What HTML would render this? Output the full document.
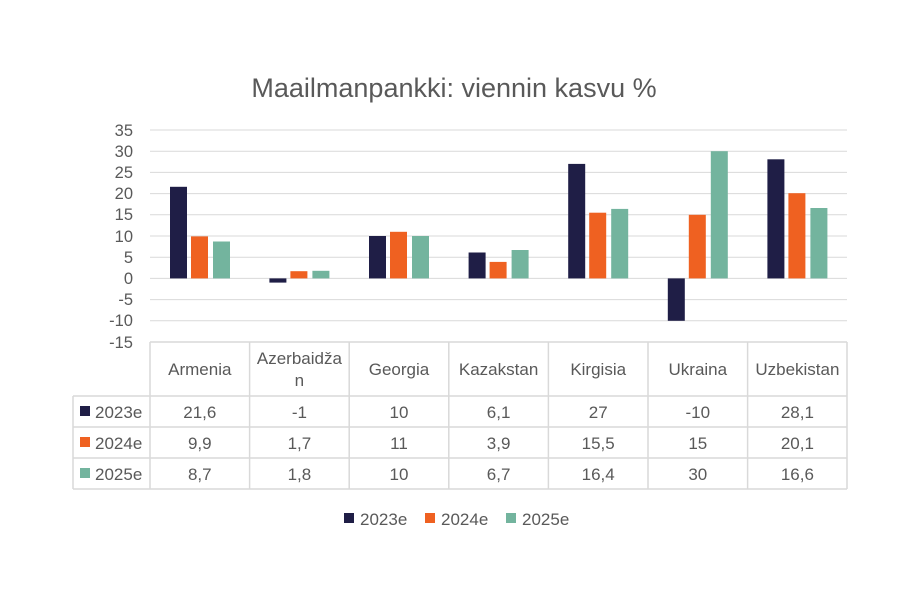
<!DOCTYPE html>
<html><head><meta charset="utf-8"><style>
body{margin:0;background:#fff}
svg{display:block;font-family:"Liberation Sans",sans-serif}
</style></head><body>
<svg width="900" height="600" viewBox="0 0 900 600">
<rect width="900" height="600" fill="#fff"/>
<text x="454" y="97" text-anchor="middle" font-size="27" fill="#595959">Maailmanpankki: viennin kasvu %</text>
<g stroke="#d9d9d9" stroke-width="1">
<line x1="150" x2="847" y1="130" y2="130"/><line x1="150" x2="847" y1="151.2" y2="151.2"/>
<line x1="150" x2="847" y1="172.4" y2="172.4"/><line x1="150" x2="847" y1="193.6" y2="193.6"/>
<line x1="150" x2="847" y1="214.8" y2="214.8"/><line x1="150" x2="847" y1="236" y2="236"/>
<line x1="150" x2="847" y1="257.2" y2="257.2"/><line x1="150" x2="847" y1="278.4" y2="278.4"/>
<line x1="150" x2="847" y1="299.6" y2="299.6"/><line x1="150" x2="847" y1="320.8" y2="320.8"/>
</g>
<g font-size="16.5" fill="#595959" text-anchor="end">
<text x="133" y="136">35</text><text x="133" y="157">30</text><text x="133" y="178">25</text>
<text x="133" y="199">20</text><text x="133" y="220">15</text><text x="133" y="242">10</text>
<text x="133" y="263">5</text><text x="133" y="284">0</text><text x="133" y="305">-5</text>
<text x="133" y="326">-10</text><text x="133" y="348">-15</text>
</g>
<g fill="#1f1e46">
<rect x="170" y="186.8" width="17" height="91.6"/><rect x="269.4" y="278.4" width="17" height="4.2"/>
<rect x="369" y="236" width="17" height="42.4"/><rect x="468.6" y="252.5" width="17" height="25.9"/>
<rect x="568.2" y="163.9" width="17" height="114.5"/><rect x="667.8" y="278.4" width="17" height="42.4"/>
<rect x="767.4" y="159.3" width="17" height="119.1"/>
</g>
<g fill="#ef6121">
<rect x="191" y="236.4" width="17" height="42"/><rect x="290.4" y="271.2" width="17" height="7.2"/>
<rect x="390" y="231.8" width="17" height="46.6"/><rect x="489.6" y="261.9" width="17" height="16.5"/>
<rect x="589.2" y="212.7" width="17" height="65.7"/><rect x="688.8" y="214.8" width="17" height="63.6"/>
<rect x="788.4" y="193.2" width="17" height="85.2"/>
</g>
<g fill="#73b49e">
<rect x="213" y="241.5" width="17" height="36.9"/><rect x="312.4" y="270.8" width="17" height="7.6"/>
<rect x="412" y="236" width="17" height="42.4"/><rect x="511.6" y="250" width="17" height="28.4"/>
<rect x="611.2" y="208.9" width="17" height="69.5"/><rect x="710.8" y="151.2" width="17" height="127.2"/>
<rect x="810.4" y="208" width="17" height="70.4"/>
</g>
<g stroke="#d9d9d9" stroke-width="1.5" fill="none">
<line x1="150" x2="847" y1="342" y2="342"/>
<line x1="73" x2="847" y1="396" y2="396"/><line x1="73" x2="847" y1="427" y2="427"/>
<line x1="73" x2="847" y1="458" y2="458"/><line x1="73" x2="847" y1="489" y2="489"/>
<line x1="73" x2="73" y1="396" y2="489"/>
<line x1="150" x2="150" y1="342" y2="489"/><line x1="249.6" x2="249.6" y1="342" y2="489"/>
<line x1="349.2" x2="349.2" y1="342" y2="489"/><line x1="448.8" x2="448.8" y1="342" y2="489"/>
<line x1="548.4" x2="548.4" y1="342" y2="489"/><line x1="648" x2="648" y1="342" y2="489"/>
<line x1="747.6" x2="747.6" y1="342" y2="489"/><line x1="847" x2="847" y1="342" y2="489"/>
</g>
<g font-size="17" fill="#595959" text-anchor="middle">
<text x="199.8" y="375">Armenia</text><text x="299.4" y="364">Azerbaidža</text><text x="299.4" y="386">n</text>
<text x="399" y="375">Georgia</text><text x="498.6" y="375">Kazakstan</text><text x="598.2" y="375">Kirgisia</text>
<text x="697.8" y="375">Ukraina</text><text x="797.4" y="375">Uzbekistan</text>
<text x="199.8" y="418">21,6</text><text x="299.4" y="418">-1</text><text x="399" y="418">10</text><text x="498.6" y="418">6,1</text><text x="598.2" y="418">27</text><text x="697.8" y="418">-10</text><text x="797.4" y="418">28,1</text>
<text x="199.8" y="449">9,9</text><text x="299.4" y="449">1,7</text><text x="399" y="449">11</text><text x="498.6" y="449">3,9</text><text x="598.2" y="449">15,5</text><text x="697.8" y="449">15</text><text x="797.4" y="449">20,1</text>
<text x="199.8" y="480">8,7</text><text x="299.4" y="480">1,8</text><text x="399" y="480">10</text><text x="498.6" y="480">6,7</text><text x="598.2" y="480">16,4</text><text x="697.8" y="480">30</text><text x="797.4" y="480">16,6</text>
</g>
<g font-size="17" fill="#595959">
<rect x="80" y="406" width="10" height="10" fill="#1f1e46"/><text x="95" y="418">2023e</text>
<rect x="80" y="437" width="10" height="10" fill="#ef6121"/><text x="95" y="449">2024e</text>
<rect x="80" y="468" width="10" height="10" fill="#73b49e"/><text x="95" y="480">2025e</text>
<rect x="344" y="513" width="10" height="10" fill="#1f1e46"/><text x="360" y="525">2023e</text>
<rect x="425" y="513" width="10" height="10" fill="#ef6121"/><text x="441" y="525">2024e</text>
<rect x="506" y="513" width="10" height="10" fill="#73b49e"/><text x="522" y="525">2025e</text>
</g>
</svg>
</body></html>
